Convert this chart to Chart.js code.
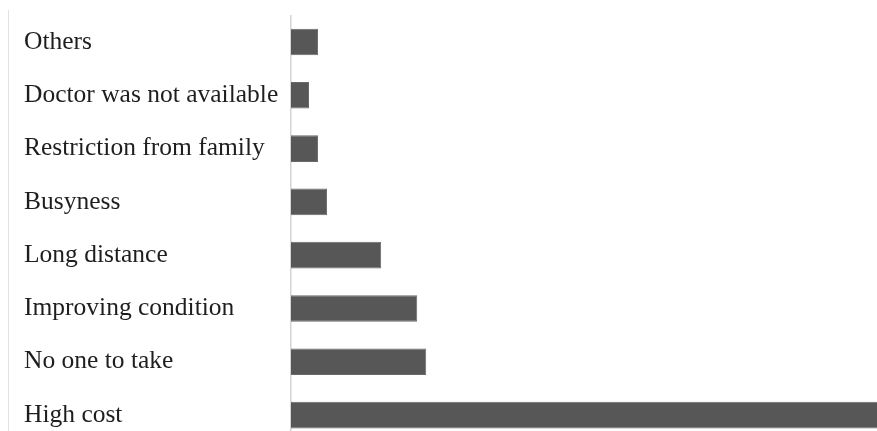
<!DOCTYPE html>
<html>
<head>
<meta charset="utf-8">
<script src="https://cdn.jsdelivr.net/npm/chart.js@4/dist/chart.umd.min.js"></script>
<style>
  html, body { margin: 0; padding: 0; background: #fff; overflow: hidden; }
  #wrap { position: relative; width: 877px; height: 431px; overflow: hidden; }
  #edge { position: absolute; left: 8px; top: 10px; bottom: 0; border-left: 1px solid #e2e2e2; }
  #box { position: absolute; left: 0; top: 0; width: 877px; height: 457px; }
</style>
</head>
<body>
<div id="wrap">
  <div id="edge"></div>
  <div id="box"><canvas id="reasons"></canvas></div>
</div>
<script>
const categories = [
    'Others',
    'Doctor was not available',
    'Restriction from family',
    'Busyness',
    'Long distance',
    'Improving condition',
    'No one to take',
    'High cost'
];
const counts = [3, 2, 3, 4, 10, 14, 15, 66];
const axisMax = 65;

const ctx = document.getElementById('reasons').getContext('2d');
new Chart(ctx, {
    type: 'bar',
    data: {
        labels: categories,
        datasets: [{
            data: counts,
            backgroundColor: '#575757',
            borderColor: '#6a6a6a',
            borderWidth: 1,
            barPercentage: 0.5,
            categoryPercentage: 1
        }]
    },
    options: {
        indexAxis: 'y',
        responsive: true,
        maintainAspectRatio: false,
        animation: false,
        layout: { padding: { left: 24, top: 15, right: 0, bottom: 0 } },
        plugins: {
            legend: { display: false },
            tooltip: { enabled: false }
        },
        scales: {
            x: {
                display: false,
                min: 0,
                max: axisMax
            },
            y: {
                grid: { display: false, drawTicks: false },
                border: { display: true, color: '#d4d4d4', width: 1.5 },
                ticks: {
                    crossAlign: 'far',
                    padding: 0,
                    color: '#1e1e1e',
                    font: { family: '"Liberation Serif", "DejaVu Serif", serif', size: 25.5 }
                },
                afterFit: function (scale) { scale.width = 267; }
            }
        }
    }
});
</script>
</body>
</html>
